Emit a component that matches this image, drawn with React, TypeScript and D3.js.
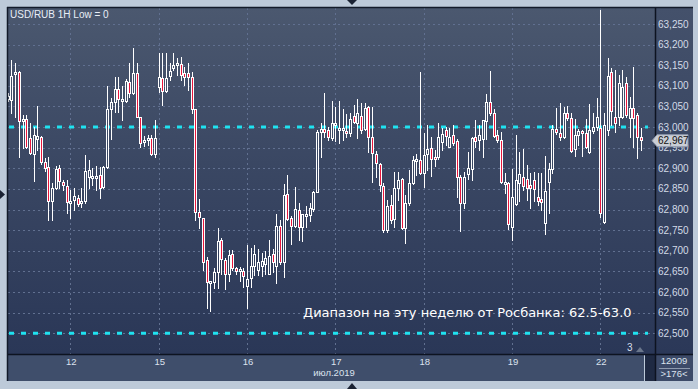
import React from "react";
import * as d3 from "d3";

const W = 698;
const H = 389;

const title = "USD/RUB 1H Low = 0";
const note = "Диапазон на эту неделю от Росбанка: 62.5-63.0";
const monthLabel = "июл.2019";
const dayLabels = ["12", "15", "16", "17", "18", "19", "22"];
const dayStarts = [17, 41, 65, 89, 113, 137, 161];
const yTickValues = [62.5, 62.55, 62.6, 62.65, 62.7, 62.75, 62.8, 62.85, 62.9, 62.95, 63.0, 63.05, 63.1, 63.15, 63.2, 63.25];
const rangeLines = [63.0, 62.5];
const lastPrice = 62.967;
const barCount = "3";
const infoTop = "12009";
const infoBottom = ">176<";

// hourly candles, 11 Jul (partial) .. 22 Jul (partial)
const opens = [
  63.068, 63.065, 63.128, 63.133, 63.014, 63.019, 62.973, 62.934, 62.971, 62.975, 62.915, 62.903, 62.820, 62.852, 62.900, 62.866, 62.857,
  62.818, 62.823, 62.827, 62.815, 62.820, 62.878, 62.876, 62.876, 62.883, 62.854, 62.903, 63.043, 63.060, 63.092, 63.065, 63.063, 63.109, 63.082, 63.131, 63.024, 62.966, 62.968, 62.973, 62.934,
  63.097, 63.119, 63.087, 63.124, 63.143, 63.153, 63.153, 63.131, 63.131, 63.121, 63.043, 62.793, 62.779, 62.677, 62.624, 62.624, 62.648, 62.726, 62.677, 62.643, 62.692, 62.658, 62.650, 62.650,
  62.614, 62.633, 62.662, 62.653, 62.662, 62.667, 62.643, 62.692, 62.662, 62.760, 62.672, 62.837, 62.779, 62.760, 62.798, 62.757, 62.786, 62.786, 62.801, 62.842, 62.988, 62.995, 62.992, 62.973,
  63.007, 62.995, 62.995, 62.990, 62.985, 63.026, 63.009, 63.026, 62.995, 63.048, 62.975, 62.934, 62.910, 62.857, 62.750, 62.810, 62.776, 62.852, 62.874, 62.755, 62.815, 62.864, 62.920, 62.920,
  62.888, 62.934, 62.949, 62.927, 62.927, 62.963, 62.992, 62.951, 62.980, 62.966, 62.878, 62.815, 62.886, 62.898, 62.975, 62.968, 62.971, 63.014, 63.060, 63.034, 62.980, 62.968, 62.864, 62.864,
  62.757, 62.813, 62.864, 62.878, 62.874, 62.859, 62.871, 62.830, 62.825, 62.767, 62.866, 62.898, 62.995, 62.985, 62.975, 63.034, 63.022, 62.946, 62.980, 62.990, 62.985, 62.939, 62.990, 63.000,
  62.997, 62.769, 62.992, 63.133, 63.024, 63.024, 63.024, 63.107, 63.022, 63.046, 63.029, 62.975,
];
const highs = [
  63.082, 63.162, 63.155, 63.136, 63.029, 63.029, 63.009, 63.000, 63.051, 62.978, 62.925, 62.927, 62.864, 62.905, 62.908, 62.871, 62.871,
  62.847, 62.852, 62.835, 62.852, 62.932, 62.920, 62.900, 62.905, 62.903, 62.905, 63.099, 63.070, 63.121, 63.121, 63.099, 63.116, 63.155, 63.192, 63.155, 63.024, 62.978, 62.980, 62.980, 63.017,
  63.179, 63.179, 63.179, 63.155, 63.179, 63.167, 63.170, 63.145, 63.155, 63.133, 63.043, 62.825, 62.779, 62.684, 62.626, 62.658, 62.755, 62.730, 62.682, 62.701, 62.701, 62.660, 62.660, 62.658,
  62.713, 62.706, 62.713, 62.704, 62.694, 62.699, 62.726, 62.704, 62.789, 62.774, 62.861, 62.883, 62.784, 62.854, 62.815, 62.789, 62.808, 62.815, 62.844, 62.992, 63.009, 63.082, 63.000, 63.063,
  63.048, 63.063, 63.043, 63.031, 63.034, 63.053, 63.068, 63.058, 63.058, 63.051, 63.048, 62.942, 62.912, 62.864, 62.823, 62.835, 62.891, 62.891, 62.876, 62.835, 62.895, 62.929, 62.934, 63.133,
  62.985, 63.005, 62.975, 62.944, 63.009, 62.997, 63.000, 62.997, 63.005, 62.971, 62.883, 62.891, 62.939, 62.975, 63.017, 63.005, 63.017, 63.080, 63.136, 63.043, 62.992, 62.988, 62.888, 62.866,
  62.898, 62.980, 62.939, 62.946, 62.908, 62.888, 62.891, 62.888, 62.888, 62.929, 62.912, 63.005, 63.046, 63.058, 63.048, 63.051, 63.034, 63.019, 62.995, 62.992, 63.019, 63.056, 63.034, 63.070,
  63.284, 63.034, 63.167, 63.143, 63.138, 63.126, 63.138, 63.121, 63.073, 63.145, 63.034, 62.997,
];
const lows = [
  63.063, 63.034, 63.024, 62.927, 62.949, 62.949, 62.934, 62.869, 62.944, 62.910, 62.893, 62.774, 62.774, 62.849, 62.852, 62.847, 62.791,
  62.779, 62.798, 62.808, 62.806, 62.815, 62.852, 62.859, 62.847, 62.827, 62.852, 62.900, 62.971, 63.036, 63.036, 63.017, 63.060, 63.073, 63.080, 63.024, 62.951, 62.954, 62.956, 62.932, 62.927,
  63.085, 63.053, 63.085, 63.114, 63.138, 63.126, 63.114, 63.102, 63.090, 63.034, 62.774, 62.755, 62.653, 62.561, 62.553, 62.609, 62.609, 62.645, 62.607, 62.628, 62.653, 62.645, 62.626, 62.612,
  62.561, 62.612, 62.641, 62.641, 62.638, 62.645, 62.643, 62.648, 62.621, 62.667, 62.636, 62.774, 62.716, 62.757, 62.726, 62.723, 62.757, 62.772, 62.796, 62.842, 62.927, 62.975, 62.968, 62.968,
  62.966, 62.961, 62.968, 62.975, 62.978, 63.009, 62.973, 62.985, 62.992, 62.939, 62.866, 62.878, 62.844, 62.745, 62.745, 62.767, 62.757, 62.823, 62.752, 62.718, 62.810, 62.861, 62.883, 62.886,
  62.854, 62.895, 62.881, 62.905, 62.922, 62.944, 62.956, 62.951, 62.956, 62.830, 62.747, 62.803, 62.874, 62.871, 62.951, 62.944, 62.927, 62.971, 63.029, 62.975, 62.963, 62.864, 62.840, 62.752,
  62.726, 62.810, 62.820, 62.847, 62.823, 62.803, 62.820, 62.810, 62.798, 62.740, 62.791, 62.888, 62.983, 62.968, 62.973, 63.017, 62.939, 62.929, 62.956, 62.929, 62.949, 62.937, 62.985, 62.992,
  62.781, 62.767, 62.980, 63.005, 62.988, 63.005, 63.022, 63.024, 62.975, 62.951, 62.925, 62.944,
];
const closes = [
  63.075, 63.124, 63.133, 63.014, 63.019, 62.951, 62.937, 62.980, 62.978, 62.915, 62.900, 62.820, 62.852, 62.898, 62.869, 62.859, 62.818,
  62.820, 62.832, 62.813, 62.820, 62.893, 62.895, 62.881, 62.881, 62.852, 62.903, 63.043, 63.060, 63.092, 63.068, 63.068, 63.111, 63.082, 63.131, 63.024, 62.961, 62.968, 62.973, 62.934, 62.973,
  63.121, 63.087, 63.119, 63.136, 63.150, 63.155, 63.126, 63.121, 63.121, 63.043, 62.793, 62.781, 62.672, 62.624, 62.626, 62.648, 62.723, 62.679, 62.643, 62.689, 62.658, 62.650, 62.655, 62.638,
  62.631, 62.662, 62.692, 62.672, 62.675, 62.682, 62.687, 62.672, 62.760, 62.672, 62.835, 62.776, 62.760, 62.801, 62.757, 62.789, 62.789, 62.803, 62.842, 62.988, 62.995, 62.988, 62.975, 63.009,
  63.009, 62.997, 62.997, 62.985, 63.019, 63.012, 63.034, 62.992, 63.046, 62.975, 62.937, 62.912, 62.859, 62.750, 62.808, 62.774, 62.852, 62.871, 62.755, 62.815, 62.864, 62.920, 62.922, 62.888,
  62.932, 62.946, 62.922, 62.922, 62.975, 62.983, 62.978, 62.975, 62.961, 62.878, 62.815, 62.878, 62.900, 62.973, 62.966, 62.980, 63.017, 63.060, 63.034, 62.978, 62.968, 62.866, 62.866, 62.764,
  62.830, 62.871, 62.886, 62.857, 62.852, 62.852, 62.849, 62.820, 62.818, 62.844, 62.898, 62.995, 62.988, 62.975, 63.034, 63.022, 62.942, 62.980, 62.990, 62.985, 62.951, 62.992, 63.000, 63.024,
  62.791, 63.005, 63.124, 63.039, 63.009, 63.107, 63.097, 63.029, 63.046, 63.022, 62.975, 62.968,
];

const PL = 8, PR = 655, PT = 8, PB = 354;
const AX_B = 381, RP = 693;

const fmtPrice = (v: number) => v.toFixed(3).replace(".", ",");

export default function App() {
  const n = opens.length;
  const x = d3.scaleLinear().domain([0, n - 1]).range([7.8, 640.8]);
  const y = d3.scaleLinear().domain([62.5, 63.25]).range([333.3, 24]);

  const candles = opens.map((o, i) => {
    const c = closes[i];
    const hi = Math.max(highs[i], o, c);
    const lo = Math.min(lows[i], o, c);
    const cx = Math.round(x(i));
    const top = Math.round(y(Math.max(o, c)));
    let bot = Math.round(y(Math.min(o, c)));
    if (bot - top < 2) bot = top + 2;
    const down = c < o;
    return { i, cx, top, bot, hy: Math.round(y(hi)), ly: Math.round(y(lo)), down };
  });

  const priceY = y(lastPrice);

  return (
    <svg
      width={W}
      height={H}
      style={{ position: "absolute", left: 0, top: 0, display: "block" }}
      fontFamily="'Liberation Sans', Arial, sans-serif"
    >
      <defs>
        <linearGradient id="plotBg" gradientUnits="userSpaceOnUse" x1="0" y1={PT} x2="0" y2={PB}>
          <stop offset="0" stopColor="#4b586f" />
          <stop offset="0.45" stopColor="#3a4763" />
          <stop offset="1" stopColor="#2a3757" />
        </linearGradient>
        <linearGradient id="axisBg" gradientUnits="userSpaceOnUse" x1="0" y1={PT} x2="0" y2={PB}>
          <stop offset="0" stopColor="#44516b" />
          <stop offset="1" stopColor="#2b3858" />
        </linearGradient>
        <clipPath id="plotClip">
          <rect x={PL} y={PT} width={PR - PL} height={PB - PT} />
        </clipPath>
      </defs>

      {/* outer frame */}
      <rect x={0} y={0} width={W} height={H} fill="#bdcad9" />

      {/* plot background */}
      <rect x={PL} y={PT} width={PR - PL} height={PB - PT} fill="url(#plotBg)" />
      {/* right axis panel */}
      <rect x={PR} y={PT} width={RP - PR} height={PB - PT} fill="url(#axisBg)" />
      {/* bottom axis band */}
      <rect x={PL} y={PB} width={644 - PL} height={AX_B - PB} fill="#3f4e6b" />
      <rect x={645} y={PB} width={PR - 645} height={AX_B - PB} fill="#1f2a43" />
      <rect x={PR} y={PB} width={RP - PR} height={AX_B - PB} fill="#3c4a68" />

      {/* grid */}
      <g clipPath="url(#plotClip)">
        {yTickValues.map((v) => (
          <line
            key={"gy" + v}
            x1={PL}
            x2={PR}
            y1={Math.round(y(v)) + 0.5}
            y2={Math.round(y(v)) + 0.5}
            stroke="#617090"
            strokeWidth={1}
            strokeDasharray="2,3"
          />
        ))}
        {dayStarts.map((d) => (
          <line
            key={"gx" + d}
            x1={Math.round(x(d)) + 0.5}
            x2={Math.round(x(d)) + 0.5}
            y1={PT}
            y2={PB}
            stroke="#617090"
            strokeWidth={1}
            strokeDasharray="2,3"
          />
        ))}
      </g>

      {/* range lines */}
      {rangeLines.map((v) => (
        <line
          key={"rl" + v}
          x1={9}
          x2={648}
          y1={y(v)}
          y2={y(v)}
          stroke="#1fe2f0"
          strokeWidth={3}
          strokeDasharray="5,7"
        />
      ))}

      {/* candles */}
      <g clipPath="url(#plotClip)">
        {candles.map((k) => (
          <g key={"c" + k.i}>
            <line x1={k.cx + 0.5} x2={k.cx + 0.5} y1={k.hy} y2={k.ly + 1} stroke="#ffffff" strokeWidth={1} />
            <rect x={k.cx - 1} y={k.top} width={3} height={k.bot - k.top + 1} fill="#ffffff" />
            {k.bot - k.top > 1 && (
              <rect
                x={k.cx}
                y={k.top + 1}
                width={1}
                height={k.bot - k.top - 1}
                fill={k.down ? "#e8163c" : "url(#plotBg)"}
              />
            )}
          </g>
        ))}
      </g>

      {/* frame lines */}
      <line x1={7.5} x2={7.5} y1={7} y2={AX_B} stroke="#121a29" strokeWidth={1.5} />
      <line x1={7} x2={RP} y1={7.5} y2={7.5} stroke="#121a29" strokeWidth={1.5} />
      <line x1={PR + 0.5} x2={PR + 0.5} y1={PT} y2={AX_B} stroke="#0d1320" strokeWidth={1.5} />
      <line x1={PL} x2={RP} y1={PB + 0.5} y2={PB + 0.5} stroke="#0d1320" strokeWidth={1.5} />

      {/* title */}
      <text x={10} y={18} fontSize={10} fill="#e8eef7">
        {title}
      </text>

      {/* annotation */}
      <text x={303} y={317} fontSize={13} fill="#ffffff" fontFamily="'DejaVu Sans', Verdana, sans-serif">
        {note}
      </text>

      {/* bar count marker */}
      <text x={627} y={351} fontSize={10} fill="#d6deea">
        {barCount}
      </text>
      <path d="M636,352 L640,347 L644,352 Z" fill="#6b778c" />

      {/* right axis labels */}
      {yTickValues.map((v) => (
        <text key={"yl" + v} x={658} y={y(v) + 3.5} fontSize={10} fill="#d3dbe7">
          {fmtPrice(v)}
        </text>
      ))}

      {/* last price box */}
      <path
        d={`M${652},${priceY} L${657},${priceY - 6} L${688},${priceY - 6} L${688},${priceY + 6} L${657},${priceY + 6} Z`}
        fill="#c9ced6"
        stroke="#8e99ab"
        strokeWidth={1}
      />
      <text x={658} y={priceY + 3.5} fontSize={10} fill="#111111">
        {fmtPrice(lastPrice)}
      </text>

      {/* x axis labels */}
      {dayStarts.map((d, j) => (
        <text key={"xl" + d} x={x(d) + 1} y={365} fontSize={9.5} fill="#dbe2ee" textAnchor="middle">
          {dayLabels[j]}
        </text>
      ))}
      <text x={334} y={376} fontSize={9.5} fill="#dbe2ee" textAnchor="middle">
        {monthLabel}
      </text>

      {/* bottom-right info */}
      <text x={674} y={364} fontSize={9.5} fill="#dbe2ee" textAnchor="middle">
        {infoTop}
      </text>
      <line x1={659} x2={690} y1={368.5} y2={368.5} stroke="#8d99ad" strokeWidth={1} />
      <text x={674} y={377} fontSize={9.5} fill="#dbe2ee" textAnchor="middle">
        {infoBottom}
      </text>

      {/* scroll markers */}
      <path d="M347,0 L357,0 L352,5 Z" fill="#1a2233" />
      <path d="M347,389 L357,389 L352,383 Z" fill="#1a2233" />
      <path d="M0,190 L0,199 L5,194.5 Z" fill="#1a2233" />
    </svg>
  );
}
